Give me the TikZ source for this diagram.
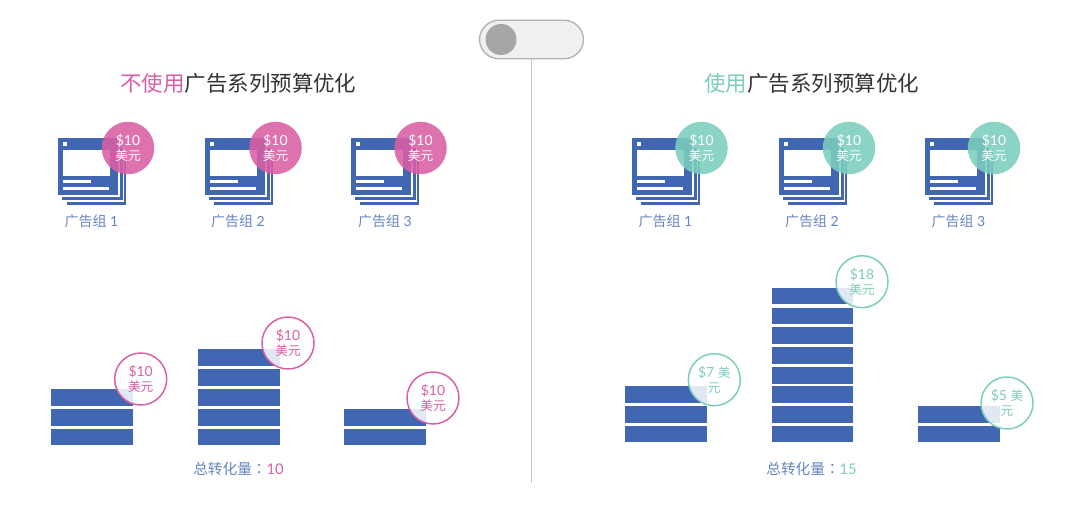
\documentclass[tikz,border=0pt]{standalone}
\usepackage{fontspec}
\setmainfont{Lato}
\newfontfamily\cjk{Noto Sans CJK SC}
\newfontfamily\cjkc{Noto Sans CJK TC}
\definecolor{barblue}{HTML}{4267B2}
\definecolor{lblue}{HTML}{6685C2}
\definecolor{pinkc}{HTML}{D95FA5}
\definecolor{tealc}{HTML}{7CCDBD}
\definecolor{titlec}{HTML}{333333}
\tikzset{
  bar/.style={fill=barblue,draw=none},
  solid badge/.style={circle,minimum size=52.5*0.75pt,inner sep=0pt,fill=#1,fill opacity=.88,text opacity=1,text=white,align=center,font=\fontsize{10.4pt}{11.6pt}\selectfont},
  ring badge/.style={circle,minimum size=52*0.75pt,inner sep=0pt,draw=#1,line width=1.1pt,fill=white,fill opacity=.85,text opacity=1,text=#1,align=center,font=\fontsize{10.4pt}{11.6pt}\selectfont},
  glabel/.style={text=lblue,font=\fontsize{10.5pt}{12pt}\selectfont,inner sep=0pt},
  total/.style={text=lblue,font=\fontsize{11pt}{12pt}\selectfont,inner sep=0pt},
  title/.style={font=\fontsize{16.1pt}{19pt}\selectfont,text=titlec,inner sep=0pt},
}
\newcommand{\smc}[1]{{\fontsize{9.5pt}{11.6pt}\selectfont\cjk #1}}
\newcommand{\mm}{\smc{美元}}
\newcommand{\adicon}[2]{%
  \begin{scope}[shift={(#1,#2)}]
    \fill[barblue] (0,0) rectangle (60,57);
    \fill[white] (5,12) rectangle (52,38);
    \fill[white] (5,4.5) rectangle (9,8.5);
    \fill[white] (5,42) rectangle (33,45.5);
    \fill[white] (5,49) rectangle (51,52);
    \fill[barblue] (4,59.5) rectangle (64.5,62);
    \fill[barblue] (62,10) rectangle (64.5,62);
    \fill[barblue] (9,64.5) rectangle (68,67);
    \fill[barblue] (65.5,14) rectangle (68,67);
  \end{scope}}
\newcommand{\barrow}[2]{\fill[bar] (#1,#2) rectangle ++(81.5,16.7);}
\begin{document}
\begin{tikzpicture}[x=0.75pt,y=-0.75pt]
\useasboundingbox (0,0) rectangle (1080,505);
\fill[white] (0,0) rectangle (1080,505);
% toggle
\node[draw=black!30,line width=1pt,fill=black!6,rounded corners=19.5*0.75pt,minimum width=104*0.75pt,minimum height=38.5*0.75pt,inner sep=0pt] (toggle) at (531.5,39.5) {};
\node[circle,fill=black!35,minimum size=31*0.75pt,inner sep=0pt] (knob) at (501,39.5) {};
\coordinate (lineend) at (531.5,483);
\draw[black!22,line width=1.3pt] (toggle.south) -- (lineend);
% titles
\node[title,anchor=west] (tl) at (120,83) {\cjk\textcolor{pinkc}{不使用}广告系列预算优化};
\node[title,anchor=west] (tr) at (704,83) {\cjk\textcolor{tealc}{使用}广告系列预算优化};
% icons
\adicon{58}{138}\adicon{205}{138}\adicon{351}{138}
\adicon{632}{138}\adicon{779}{138}\adicon{925}{138}
\node[solid badge=pinkc] (a1) at (128,148) {\$10\\\mm};
\node[solid badge=pinkc] (a2) at (275.5,148) {\$10\\\mm};
\node[solid badge=pinkc] (a3) at (420.5,148) {\$10\\\mm};
\node[solid badge=tealc] (b1) at (701.5,148) {\$10\\\mm};
\node[solid badge=tealc] (b2) at (849,148) {\$10\\\mm};
\node[solid badge=tealc] (b3) at (994,148) {\$10\\\mm};
\node[glabel] (la1) at (91.5,221.5) {{\cjk 广告组} 1};
\node[glabel] (la2) at (238,221.5) {{\cjk 广告组} 2};
\node[glabel] (la3) at (385,221.5) {{\cjk 广告组} 3};
\node[glabel] (lb1) at (665.5,221.5) {{\cjk 广告组} 1};
\node[glabel] (lb2) at (812,221.5) {{\cjk 广告组} 2};
\node[glabel] (lb3) at (958.5,221.5) {{\cjk 广告组} 3};
% left bars
\foreach \y in {389,409,428.5} {\barrow{51}{\y}}
\foreach \y in {349.5,369.5,389,409,428.5} {\barrow{198}{\y}}
\foreach \y in {409,428.5} {\barrow{344}{\y}}
% right bars
\foreach \y in {386,406,425.7} {\barrow{625}{\y}}
\foreach \y in {287.7,307.7,327,347,367,386,406,425.7} {\barrow{771.5}{\y}}
\foreach \y in {406,425.7} {\barrow{918}{\y}}
% ring badges
\node[ring badge=pinkc] (c1) at (140.7,379) {\$10\\\mm};
\node[ring badge=pinkc] (c2) at (288,343) {\$10\\\mm};
\node[ring badge=pinkc] (c3) at (433,398) {\$10\\\mm};
\node[ring badge=tealc] (d1) at (714.3,379.7) {\$7 \smc{美}\\\smc{元}};
\node[ring badge=tealc] (d2) at (862,281.7) {\$18\\\mm};
\node[ring badge=tealc] (d3) at (1007,403) {\$5 \smc{美}\\\smc{元}};
% totals
\node[total] (ta) at (238.5,469) {{\cjk 总转化量}{\cjkc ：}\textcolor{pinkc}{10}};
\node[total] (tb) at (811.5,469) {{\cjk 总转化量}{\cjkc ：}\textcolor{tealc}{15}};
\end{tikzpicture}
\end{document}
